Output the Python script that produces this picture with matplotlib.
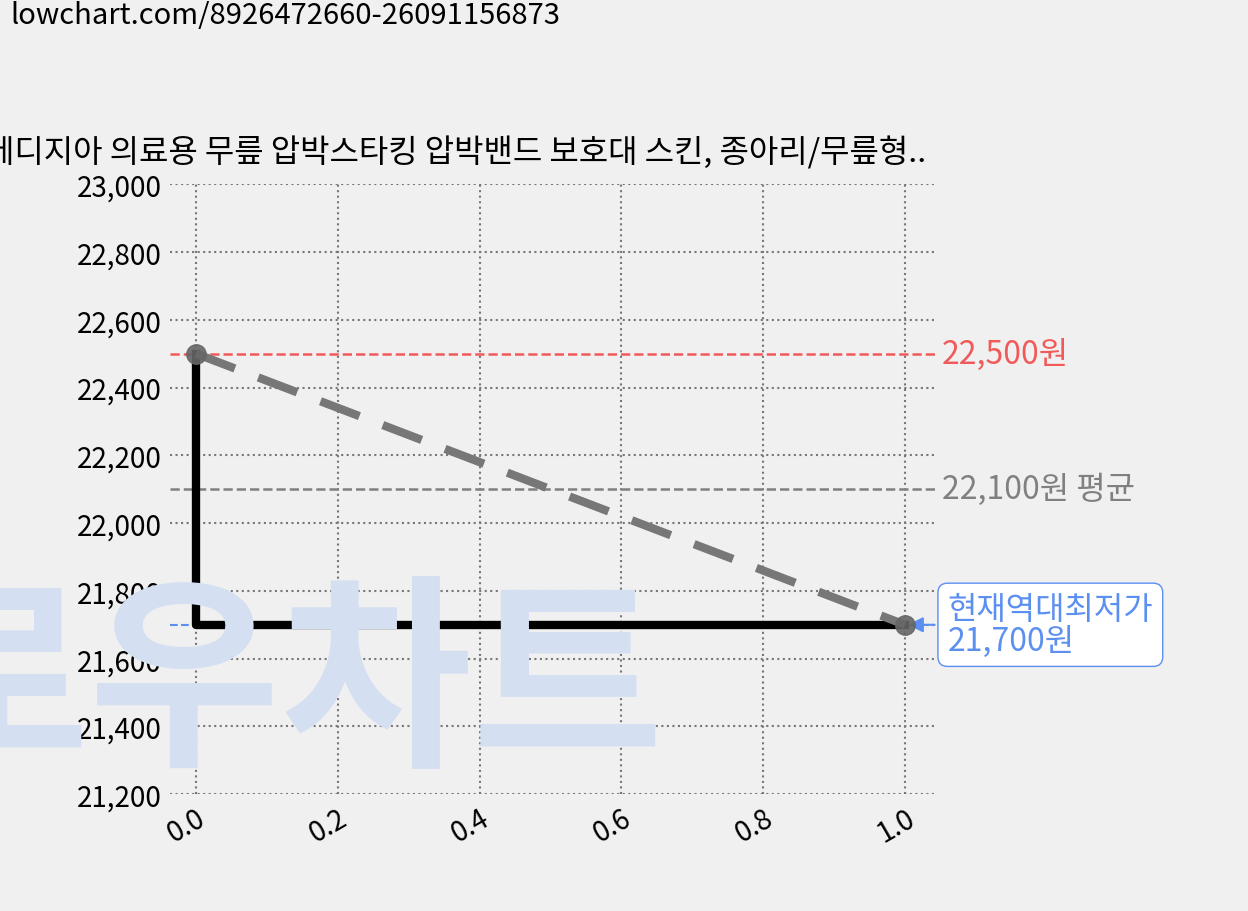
import matplotlib.pyplot as plt

plt.rcParams['font.family'] = ['Noto Sans CJK KR', 'DejaVu Sans']

xs = [0.0, 1.0]
prices = [22500, 21700]
max_price = 22500
avg_price = 22100
min_price = 21700
title = '메디지아 의료용 무릎 압박스타킹 압박밴드 보호대 스킨, 종아리/무릎형..'
url = 'lowchart.com/8926472660-26091156873'

fig = plt.figure(figsize=(12.48, 9.12), dpi=100, facecolor='#f0f0f0')
fig.text(0.225, 0.245, '로우차트', fontsize=150, fontweight='bold', color='#d5dff2',
         ha='center', va='center', zorder=0)

ax = fig.add_axes([0.136, 0.128, 0.613, 0.669])
ax.set_facecolor('none')

ax.plot(xs, prices, drawstyle='steps-pre', color='black', lw=6, zorder=3)
ax.plot(xs, prices, color='#777777', lw=6, ls=(0, (5, 3)), zorder=4)
ax.plot(xs, prices, 'o', color='#666666', ms=14, alpha=0.9, zorder=5)

ax.axhline(max_price, color='#f05a5a', ls='--', lw=1.8, zorder=2)
ax.axhline(avg_price, color='#808080', ls='--', lw=1.8, zorder=2)
ax.axhline(min_price, color='#5b8ff0', ls='--', lw=1.5, zorder=2)

ax.text(1.052, max_price, f'{max_price:,}원', color='#f05a5a', fontsize=23, va='center')
ax.text(1.052, avg_price, f'{avg_price:,}원 평균', color='#808080', fontsize=23, va='center')
ax.annotate(f'현재역대최저가\n{min_price:,}원', xy=(1.0, min_price), xytext=(1.06, min_price),
            color='#5b8ff0', fontsize=23, va='center', linespacing=1.0,
            bbox=dict(boxstyle='round,pad=0.3', fc='white', ec='#5b8ff0'),
            arrowprops=dict(arrowstyle='-|>', color='#5b8ff0', lw=1.5))

ax.set_xlim(-0.037, 1.042)
ax.set_ylim(21200, 23000)
ax.set_xticks([0.0, 0.2, 0.4, 0.6, 0.8, 1.0])
ax.set_yticks(range(21200, 23001, 200))
ax.yaxis.set_major_formatter(plt.FuncFormatter(lambda v, p: f'{int(v):,}'))
ax.grid(True, color='#777777', ls=':', lw=1.5)
for s in ax.spines.values():
    s.set_visible(False)
ax.tick_params(length=0, labelsize=20, pad=6)
for lab in ax.get_yticklabels() + ax.get_xticklabels():
    lab.set_fontweight('light')
plt.setp(ax.get_xticklabels(), rotation=30, ha='right', rotation_mode='anchor')

fig.text(-0.012, 0.832, title, fontsize=23, ha='left', va='center')
fig.text(0.008, 0.982, url, fontsize=21, ha='left', va='center')

fig.savefig('out.png', dpi=100, facecolor='#f0f0f0')
